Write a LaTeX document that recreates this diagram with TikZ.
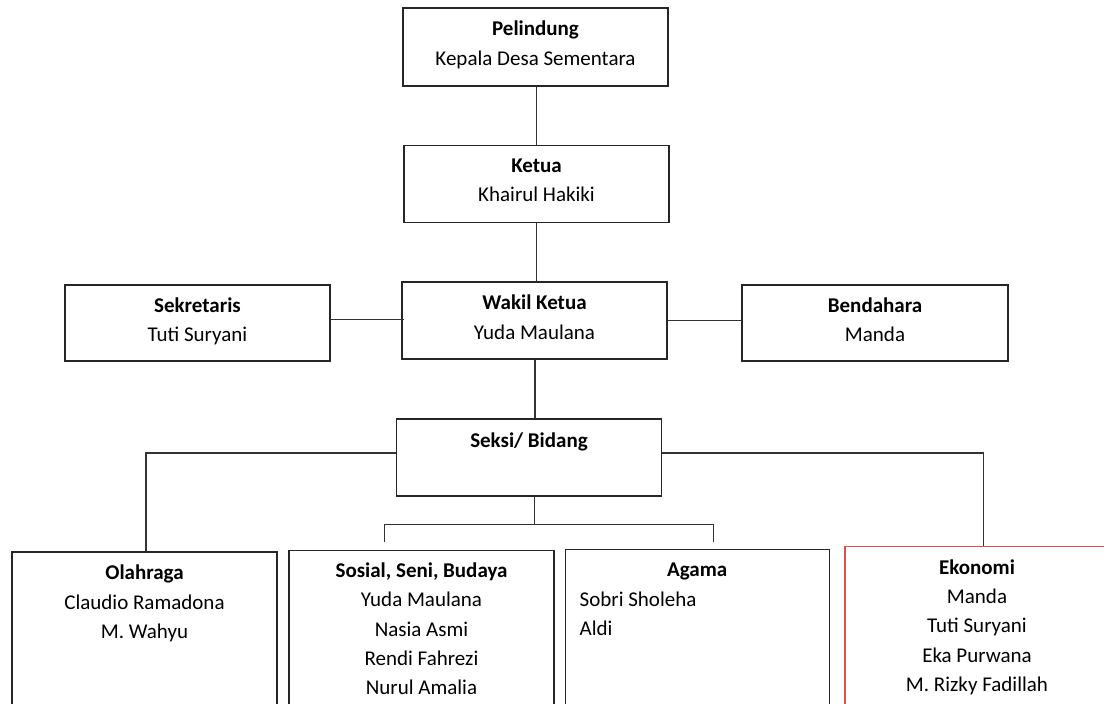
\documentclass[tikz,border=0pt]{standalone}
\usepackage{fontspec}
\setmainfont{Carlito}
\definecolor{ekored}{RGB}{232,76,76}
\begin{document}
\begin{tikzpicture}[x=1pt, y=-1pt,
  box/.style={draw=black!85, line width=1.3pt, minimum width=265pt, minimum height=77pt, inner sep=0pt},
  link/.style={draw=black!80, line width=1.3pt},
  head/.style={font=\fontsize{21}{24}\selectfont\bfseries, anchor=base, inner sep=0pt},
  member/.style={font=\fontsize{21}{24}\selectfont, anchor=base, inner sep=0pt}]

  \def\gap{29.3}

  \useasboundingbox (0,0) rectangle (1104,704);
  \fill[white] (0,0) rectangle (1104,704);
  \clip (0,0) rectangle (1104,704);

  \node[box, minimum height=78pt] (pelindung) at (535.5,47) {};
  \node[box] (ketua) at (536.5,184.3) {};
  \node[box] (wakil) at (534.5,320.5) {};
  \node[box, minimum height=76pt] (sekretaris) at (197.5,323) {};
  \node[box, minimum height=76pt, minimum width=266pt] (bendahara) at (875,323) {};
  \node[box] (seksi) at (529,457.5) {};

  \node[box, minimum height=200pt] (olahraga) at (144.5,652) {};
  \node[box, minimum height=200pt] (sosial) at (421.5,650.7) {};
  \node[box, minimum height=200pt, minimum width=264pt] (agama) at (697.2,649.3) {};
  \node[box, draw=ekored, minimum height=200pt, minimum width=264pt] (ekonomi) at (977,646.7) {};

  \node[head] (pelindung-t) at (535.5,35.7) {Pelindung};
  \node[member] (pelindung-n) at (535.5,65.3) {Kepala Desa Sementara};
  \node[head] (ketua-t) at (536.5,172.7) {Ketua};
  \node[member] (ketua-n) at (536.5,201.7) {Khairul Hakiki};
  \node[head] (sekretaris-t) at (197.5,312) {Sekretaris};
  \node[member] (sekretaris-n) at (197.5,341.5) {Tuti Suryani};
  \node[head] (wakil-t) at (534.5,309) {Wakil Ketua};
  \node[member] (wakil-n) at (534.5,339) {Yuda Maulana};
  \node[head] (bendahara-t) at (875,312) {Bendahara};
  \node[member] (bendahara-n) at (875,341.5) {Manda};
  \node[head] (seksi-t) at (529,447) {Seksi/ Bidang};

  \node[head] (olahraga-t) at (144.5,579) {Olahraga};
  \foreach \who [count=\i from 0] in {Claudio Ramadona, M. Wahyu} {
    \node[member] (olahraga-\i) at (144.5, {609+\gap*\i}) {\who};
  }
  \node[head] (sosial-t) at (421.5,577.5) {Sosial, Seni, Budaya};
  \foreach \who [count=\i from 0] in {Yuda Maulana, Nasia Asmi, Rendi Fahrezi, Nurul Amalia} {
    \node[member] (sosial-\i) at (421.5, {606.7+\gap*\i}) {\who};
  }
  \node[head] (agama-t) at (697.2,576.5) {Agama};
  \foreach \who [count=\i from 0] in {Sobri Sholeha, Aldi} {
    \node[member, anchor=base west] (agama-\i) at (579.5, {606.5+\gap*\i}) {\who};
  }
  \node[head] (ekonomi-t) at (977,574) {Ekonomi};
  \foreach \who [count=\i from 0] in {Manda, Tuti Suryani, Eka Purwana, M. Rizky Fadillah} {
    \node[member] (ekonomi-\i) at (977, {603.5+\gap*\i}) {\who};
  }

  \coordinate (olahtop) at (146,453);
  \coordinate (ekotop) at (983.5,453);
  \coordinate (brk) at (534.5,524.3);
  \coordinate (brkl) at (384.5,524.3);
  \coordinate (brkr) at (713.4,524.3);
  \coordinate (tickl) at (384.5,542.3);
  \coordinate (tickr) at (713.4,542.3);

  \draw[link] (ketua.north -| 536.3,0) -- (pelindung.south -| 536.3,0);
  \draw[link] (ketua.south -| 536.5,0) -- (wakil.north -| 536.5,0);
  \draw[link] (sekretaris.east |- 0,319.5) -- ([xshift=3pt]wakil.west |- 0,319.5);
  \draw[link] (wakil.east |- 0,320.7) -- (bendahara.west |- 0,320.7);
  \draw[link] (wakil.south -| 535,0) -- (seksi.north -| 535,0);
  \draw[link] (seksi.west |- olahtop) -- (olahtop) -- (olahtop |- olahraga.north);
  \draw[link] (seksi.east |- ekotop) -- (ekotop) -- (ekotop |- ekonomi.north);
  \draw[link] (seksi.south -| brk) -- (brk);
  \draw[link] (tickl) -- (brkl) -- (brkr) -- (tickr);

\end{tikzpicture}
\end{document}
